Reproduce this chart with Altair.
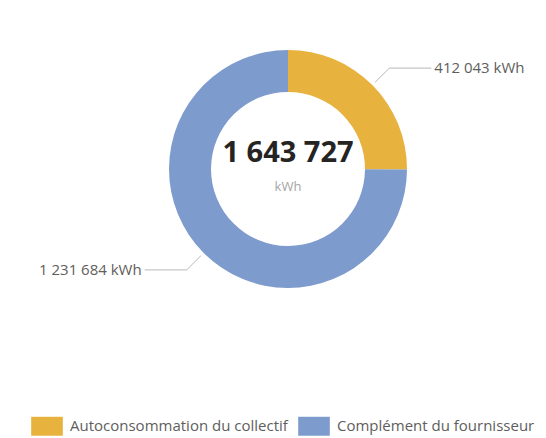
import altair as alt
import pandas as pd

# ---- data ----
categories = ["Autoconsommation du collectif", "Complément du fournisseur"]
values = [412043, 1231684]
order = [0, 1]
colors = ["#E7B23E", "#7E9BCD"]
unit = "kWh"

df = pd.DataFrame({"categorie": categories, "valeur": values, "ordre": order})

# ---- layout constants ----
CX, CY = 280, 161
R_OUT, R_IN = 119, 77
R_LEAD0, R_LEAD1 = R_OUT + 4, R_OUT + 24
HSEG = 42
FONT = "Open Sans"

base = alt.Chart(df)

color = alt.Color(
    "categorie:N",
    scale=alt.Scale(domain=categories, range=colors),
    legend=alt.Legend(
        title=None,
        orient="none",
        direction="horizontal",
        legendX=23,
        legendY=402,
        symbolType="M-1,-0.6H1V0.6H-1Z",
        symbolSize=1000,
        symbolStrokeWidth=0,
        symbolOpacity=1,
        labelFont=FONT,
        labelFontSize=15,
        labelColor="#605E5C",
        labelOffset=7,
        labelLimit=400,
        columnPadding=10,
        padding=0,
    ),
)

arc = base.mark_arc(outerRadius=R_OUT, innerRadius=R_IN).encode(
    theta=alt.Theta("valeur:Q", stack=True),
    color=color,
    order=alt.Order("ordre:Q"),
    x=alt.value(CX),
    y=alt.value(CY),
)

lead = (
    base.transform_joinaggregate(total="sum(valeur)")
    .transform_window(cum="sum(valeur)", sort=[alt.SortField("ordre")], frame=[None, 0])
    .transform_calculate(mid="(datum.cum - datum.valeur / 2) / datum.total * 2 * PI")
    .transform_calculate(
        sx=f"{CX} + {R_LEAD0} * sin(datum.mid)",
        sy=f"{CY} - {R_LEAD0} * cos(datum.mid)",
        ex=f"{CX} + {R_LEAD1} * sin(datum.mid)",
        ey=f"{CY} - {R_LEAD1} * cos(datum.mid)",
        side="sin(datum.mid) >= 0 ? 1 : -1",
        label=f"replace(format(datum.valeur, ','), regexp(',', 'g'), ' ') + ' {unit}'",
    )
    .transform_calculate(hx=f"datum.ex + datum.side * {HSEG}")
    .transform_calculate(tx="datum.hx + datum.side * 3")
)

rule1 = lead.mark_rule(color="#B8B8B8", strokeWidth=1).encode(
    x=alt.X("sx:Q", scale=None),
    y=alt.Y("sy:Q", scale=None),
    x2="ex:Q",
    y2="ey:Q",
)
rule2 = lead.mark_rule(color="#B8B8B8", strokeWidth=1).encode(
    x=alt.X("ex:Q", scale=None),
    y=alt.Y("ey:Q", scale=None),
    x2="hx:Q",
    y2="ey:Q",
)
text_right = lead.transform_filter("datum.side > 0").mark_text(
    align="left", baseline="middle", font=FONT, fontSize=15, color="#605E5C"
).encode(x=alt.X("tx:Q", scale=None), y=alt.Y("ey:Q", scale=None), text="label:N")
text_left = lead.transform_filter("datum.side < 0").mark_text(
    align="right", baseline="middle", font=FONT, fontSize=15, color="#605E5C"
).encode(x=alt.X("tx:Q", scale=None), y=alt.Y("ey:Q", scale=None), text="label:N")

center = (
    base.transform_aggregate(total="sum(valeur)")
    .transform_calculate(label="replace(format(datum.total, ','), regexp(',', 'g'), ' ')")
    .mark_text(align="center", baseline="middle", font=FONT, fontSize=29, fontWeight="bold", color="#252423")
    .encode(x=alt.value(CX), y=alt.value(CY - 16), text="label:N")
)
center_unit = (
    base.transform_aggregate(total="sum(valeur)")
    .transform_calculate(label=f"'{unit}'")
    .mark_text(align="center", baseline="middle", font=FONT, fontSize=13, color="#A6A6A6")
    .encode(x=alt.value(CX), y=alt.value(CY + 18), text="label:N")
)

chart = (
    alt.layer(arc, rule1, rule2, text_right, text_left, center, center_unit)
    .properties(width=530, height=430, autosize=alt.AutoSizeParams(type="none"), padding=0)
    .configure_view(strokeWidth=0)
)

chart.save("out.html", embed_options={"renderer": "svg", "actions": False})
